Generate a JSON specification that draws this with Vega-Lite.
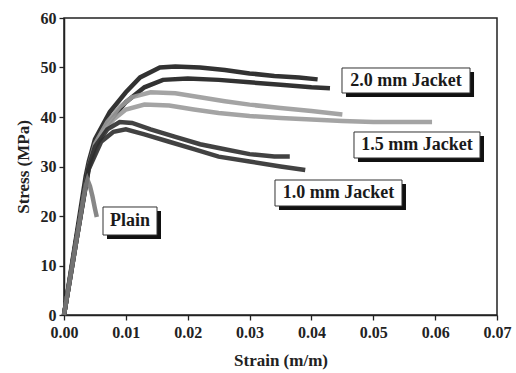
{
  "$schema": "https://vega.github.io/schema/vega-lite/v6.json",
  "width": 433,
  "height": 297,
  "autosize": {"type": "none"},
  "padding": {"left": 64, "top": 18, "right": 19, "bottom": 58},
  "background": "white",
  "config": {
    "view": {"stroke": "#222", "strokeWidth": 1.5},
    "font": "Liberation Serif",
    "axis": {
      "grid": false,
      "domainColor": "#222",
      "domainWidth": 1.5,
      "tickColor": "#222",
      "tickWidth": 1.3,
      "labelFlush": false,
      "labelOverlap": false,
      "labelFont": "Liberation Serif",
      "labelFontSize": 16,
      "labelFontWeight": "bold",
      "labelColor": "#222",
      "titleFont": "Liberation Serif",
      "titleFontSize": 17,
      "titleFontWeight": "bold",
      "titleColor": "#222"
    }
  },
  "layer": [
    {
      "data": {
        "values": [
          {"curve": "2.0", "spec": "2.0A", "strain": 0, "stress": 0},
          {"curve": "2.0", "spec": "2.0A", "strain": 0.001, "stress": 8},
          {"curve": "2.0", "spec": "2.0A", "strain": 0.002, "stress": 16},
          {"curve": "2.0", "spec": "2.0A", "strain": 0.003, "stress": 24},
          {"curve": "2.0", "spec": "2.0A", "strain": 0.0035, "stress": 28},
          {"curve": "2.0", "spec": "2.0A", "strain": 0.004, "stress": 31},
          {"curve": "2.0", "spec": "2.0A", "strain": 0.005, "stress": 35.5},
          {"curve": "2.0", "spec": "2.0A", "strain": 0.0074, "stress": 41},
          {"curve": "2.0", "spec": "2.0A", "strain": 0.01, "stress": 45},
          {"curve": "2.0", "spec": "2.0A", "strain": 0.0123, "stress": 48},
          {"curve": "2.0", "spec": "2.0A", "strain": 0.0155, "stress": 50},
          {"curve": "2.0", "spec": "2.0A", "strain": 0.018, "stress": 50.2},
          {"curve": "2.0", "spec": "2.0A", "strain": 0.022, "stress": 50},
          {"curve": "2.0", "spec": "2.0A", "strain": 0.026, "stress": 49.5},
          {"curve": "2.0", "spec": "2.0A", "strain": 0.03, "stress": 48.8},
          {"curve": "2.0", "spec": "2.0A", "strain": 0.034, "stress": 48.3},
          {"curve": "2.0", "spec": "2.0A", "strain": 0.038, "stress": 48},
          {"curve": "2.0", "spec": "2.0A", "strain": 0.041, "stress": 47.6},
          {"curve": "2.0", "spec": "2.0B", "strain": 0, "stress": 0},
          {"curve": "2.0", "spec": "2.0B", "strain": 0.002, "stress": 15.5},
          {"curve": "2.0", "spec": "2.0B", "strain": 0.004, "stress": 30},
          {"curve": "2.0", "spec": "2.0B", "strain": 0.005, "stress": 34},
          {"curve": "2.0", "spec": "2.0B", "strain": 0.007, "stress": 38.5},
          {"curve": "2.0", "spec": "2.0B", "strain": 0.01, "stress": 43},
          {"curve": "2.0", "spec": "2.0B", "strain": 0.013, "stress": 46},
          {"curve": "2.0", "spec": "2.0B", "strain": 0.016, "stress": 47.5},
          {"curve": "2.0", "spec": "2.0B", "strain": 0.02, "stress": 47.8},
          {"curve": "2.0", "spec": "2.0B", "strain": 0.025, "stress": 47.5},
          {"curve": "2.0", "spec": "2.0B", "strain": 0.03, "stress": 47},
          {"curve": "2.0", "spec": "2.0B", "strain": 0.035, "stress": 46.5},
          {"curve": "2.0", "spec": "2.0B", "strain": 0.04, "stress": 46},
          {"curve": "2.0", "spec": "2.0B", "strain": 0.043, "stress": 45.8},
          {"curve": "1.5", "spec": "1.5A", "strain": 0, "stress": 0},
          {"curve": "1.5", "spec": "1.5A", "strain": 0.002, "stress": 15},
          {"curve": "1.5", "spec": "1.5A", "strain": 0.004, "stress": 30},
          {"curve": "1.5", "spec": "1.5A", "strain": 0.005, "stress": 34.5},
          {"curve": "1.5", "spec": "1.5A", "strain": 0.007, "stress": 39},
          {"curve": "1.5", "spec": "1.5A", "strain": 0.009, "stress": 42},
          {"curve": "1.5", "spec": "1.5A", "strain": 0.011, "stress": 44},
          {"curve": "1.5", "spec": "1.5A", "strain": 0.014, "stress": 45},
          {"curve": "1.5", "spec": "1.5A", "strain": 0.018, "stress": 44.8},
          {"curve": "1.5", "spec": "1.5A", "strain": 0.022, "stress": 44},
          {"curve": "1.5", "spec": "1.5A", "strain": 0.026, "stress": 43.2},
          {"curve": "1.5", "spec": "1.5A", "strain": 0.03, "stress": 42.5},
          {"curve": "1.5", "spec": "1.5A", "strain": 0.035, "stress": 41.8},
          {"curve": "1.5", "spec": "1.5A", "strain": 0.04, "stress": 41.2},
          {"curve": "1.5", "spec": "1.5A", "strain": 0.045, "stress": 40.5},
          {"curve": "1.5", "spec": "1.5B", "strain": 0, "stress": 0},
          {"curve": "1.5", "spec": "1.5B", "strain": 0.002, "stress": 15},
          {"curve": "1.5", "spec": "1.5B", "strain": 0.004, "stress": 29.5},
          {"curve": "1.5", "spec": "1.5B", "strain": 0.006, "stress": 36.5},
          {"curve": "1.5", "spec": "1.5B", "strain": 0.008, "stress": 39.5},
          {"curve": "1.5", "spec": "1.5B", "strain": 0.01, "stress": 41.5},
          {"curve": "1.5", "spec": "1.5B", "strain": 0.013, "stress": 42.5},
          {"curve": "1.5", "spec": "1.5B", "strain": 0.017, "stress": 42.3},
          {"curve": "1.5", "spec": "1.5B", "strain": 0.021, "stress": 41.5},
          {"curve": "1.5", "spec": "1.5B", "strain": 0.025, "stress": 40.8},
          {"curve": "1.5", "spec": "1.5B", "strain": 0.03, "stress": 40.2},
          {"curve": "1.5", "spec": "1.5B", "strain": 0.035, "stress": 39.8},
          {"curve": "1.5", "spec": "1.5B", "strain": 0.04, "stress": 39.5},
          {"curve": "1.5", "spec": "1.5B", "strain": 0.045, "stress": 39.2},
          {"curve": "1.5", "spec": "1.5B", "strain": 0.05, "stress": 39},
          {"curve": "1.5", "spec": "1.5B", "strain": 0.055, "stress": 39},
          {"curve": "1.5", "spec": "1.5B", "strain": 0.0595, "stress": 39},
          {"curve": "1.0", "spec": "1.0A", "strain": 0, "stress": 0},
          {"curve": "1.0", "spec": "1.0A", "strain": 0.002, "stress": 15},
          {"curve": "1.0", "spec": "1.0A", "strain": 0.004, "stress": 30},
          {"curve": "1.0", "spec": "1.0A", "strain": 0.005, "stress": 34},
          {"curve": "1.0", "spec": "1.0A", "strain": 0.007, "stress": 37.5},
          {"curve": "1.0", "spec": "1.0A", "strain": 0.009, "stress": 39},
          {"curve": "1.0", "spec": "1.0A", "strain": 0.011, "stress": 38.8},
          {"curve": "1.0", "spec": "1.0A", "strain": 0.014, "stress": 37.5},
          {"curve": "1.0", "spec": "1.0A", "strain": 0.018, "stress": 36},
          {"curve": "1.0", "spec": "1.0A", "strain": 0.022, "stress": 34.5},
          {"curve": "1.0", "spec": "1.0A", "strain": 0.026, "stress": 33.5},
          {"curve": "1.0", "spec": "1.0A", "strain": 0.03, "stress": 32.5},
          {"curve": "1.0", "spec": "1.0A", "strain": 0.034, "stress": 32},
          {"curve": "1.0", "spec": "1.0A", "strain": 0.0365, "stress": 32},
          {"curve": "1.0", "spec": "1.0B", "strain": 0, "stress": 0},
          {"curve": "1.0", "spec": "1.0B", "strain": 0.002, "stress": 15},
          {"curve": "1.0", "spec": "1.0B", "strain": 0.004, "stress": 29.5},
          {"curve": "1.0", "spec": "1.0B", "strain": 0.006, "stress": 35},
          {"curve": "1.0", "spec": "1.0B", "strain": 0.008, "stress": 37},
          {"curve": "1.0", "spec": "1.0B", "strain": 0.01, "stress": 37.5},
          {"curve": "1.0", "spec": "1.0B", "strain": 0.013, "stress": 36.5},
          {"curve": "1.0", "spec": "1.0B", "strain": 0.017, "stress": 35},
          {"curve": "1.0", "spec": "1.0B", "strain": 0.021, "stress": 33.5},
          {"curve": "1.0", "spec": "1.0B", "strain": 0.025, "stress": 32},
          {"curve": "1.0", "spec": "1.0B", "strain": 0.03, "stress": 31},
          {"curve": "1.0", "spec": "1.0B", "strain": 0.035, "stress": 30},
          {"curve": "1.0", "spec": "1.0B", "strain": 0.039, "stress": 29.3},
          {"curve": "Plain", "spec": "PlainA", "strain": 0, "stress": 0},
          {"curve": "Plain", "spec": "PlainA", "strain": 0.001, "stress": 7.5},
          {"curve": "Plain", "spec": "PlainA", "strain": 0.002, "stress": 15},
          {"curve": "Plain", "spec": "PlainA", "strain": 0.003, "stress": 22.5},
          {"curve": "Plain", "spec": "PlainA", "strain": 0.0035, "stress": 26},
          {"curve": "Plain", "spec": "PlainA", "strain": 0.0038, "stress": 27.3},
          {"curve": "Plain", "spec": "PlainA", "strain": 0.0042, "stress": 26},
          {"curve": "Plain", "spec": "PlainA", "strain": 0.0046, "stress": 24},
          {"curve": "Plain", "spec": "PlainA", "strain": 0.005, "stress": 21.5},
          {"curve": "Plain", "spec": "PlainA", "strain": 0.0053, "stress": 19.8}
        ]
      },
      "mark": {"type": "line", "strokeWidth": 4.5, "opacity": 0.9},
      "encoding": {
        "x": {
          "field": "strain",
          "type": "quantitative",
          "scale": {"domain": [0, 0.07], "nice": false},
          "axis": {
            "title": "Strain (m/m)",
            "values": [0, 0.005, 0.01, 0.015, 0.02, 0.025, 0.03, 0.035, 0.04, 0.045, 0.05, 0.055, 0.06, 0.065, 0.07],
            "labelExpr": "abs(datum.value*100 - round(datum.value*100)) < 1e-6 ? format(datum.value, '.2f') : ''",
            "tickSize": {"condition": {"test": "abs(datum.value*100 - round(datum.value*100)) < 1e-6", "value": 5}, "value": 3},
            "labelPadding": 4,
            "titlePadding": 12
          }
        },
        "y": {
          "field": "stress",
          "type": "quantitative",
          "scale": {"domain": [0, 60], "nice": false},
          "axis": {
            "title": "Stress (MPa)",
            "values": [0, 5, 10, 15, 20, 25, 30, 35, 40, 45, 50, 55, 60],
            "labelExpr": "datum.value % 10 === 0 ? datum.label : ''",
            "tickSize": {"condition": {"test": "datum.value % 10 === 0", "value": 5}, "value": 3},
            "labelPadding": 3,
            "titlePadding": 8
          }
        },
        "color": {
          "field": "curve",
          "type": "nominal",
          "scale": {"domain": ["2.0", "1.5", "1.0", "Plain"], "range": ["#1c1c1c", "#9a9a9a", "#2e2e2e", "#7a7a7a"]},
          "legend": null
        },
        "detail": {"field": "spec"}
      }
    },
    {
      "data": {"name": "labels", "values": [
        {"label": "2.0 mm Jacket", "x0": 0.04494, "x1": 0.06564, "y0": 49.9, "y1": 44.85, "xc": 0.05529, "yc": 47.3},
        {"label": "1.5 mm Jacket", "x0": 0.04688, "x1": 0.06725, "y0": 36.97, "y1": 31.72, "xc": 0.05707, "yc": 34.3},
        {"label": "1.0 mm Jacket", "x0": 0.03411, "x1": 0.05464, "y0": 27.27, "y1": 22.02, "xc": 0.04438, "yc": 24.6},
        {"label": "Plain", "x0": 0.006305, "x1": 0.015035, "y0": 21.82, "y1": 16.16, "xc": 0.01067, "yc": 18.95}
      ]},
      "layer": [
        {
          "mark": {"type": "rect", "fill": "#111", "xOffset": 4, "x2Offset": 4, "yOffset": 4, "y2Offset": 4},
          "encoding": {
            "x": {"field": "x0", "type": "quantitative"},
            "x2": {"field": "x1"},
            "y": {"field": "y0", "type": "quantitative"},
            "y2": {"field": "y1"}
          }
        },
        {
          "mark": {"type": "rect", "fill": "white", "stroke": "#333", "strokeWidth": 1},
          "encoding": {
            "x": {"field": "x0", "type": "quantitative"},
            "x2": {"field": "x1"},
            "y": {"field": "y0", "type": "quantitative"},
            "y2": {"field": "y1"}
          }
        },
        {
          "mark": {"type": "text", "font": "Liberation Serif", "fontSize": 18, "fontWeight": "bold", "color": "#1a1a1a", "align": "center", "baseline": "middle"},
          "encoding": {
            "x": {"field": "xc", "type": "quantitative"},
            "y": {"field": "yc", "type": "quantitative"},
            "text": {"field": "label"}
          }
        }
      ]
    }
  ]
}
